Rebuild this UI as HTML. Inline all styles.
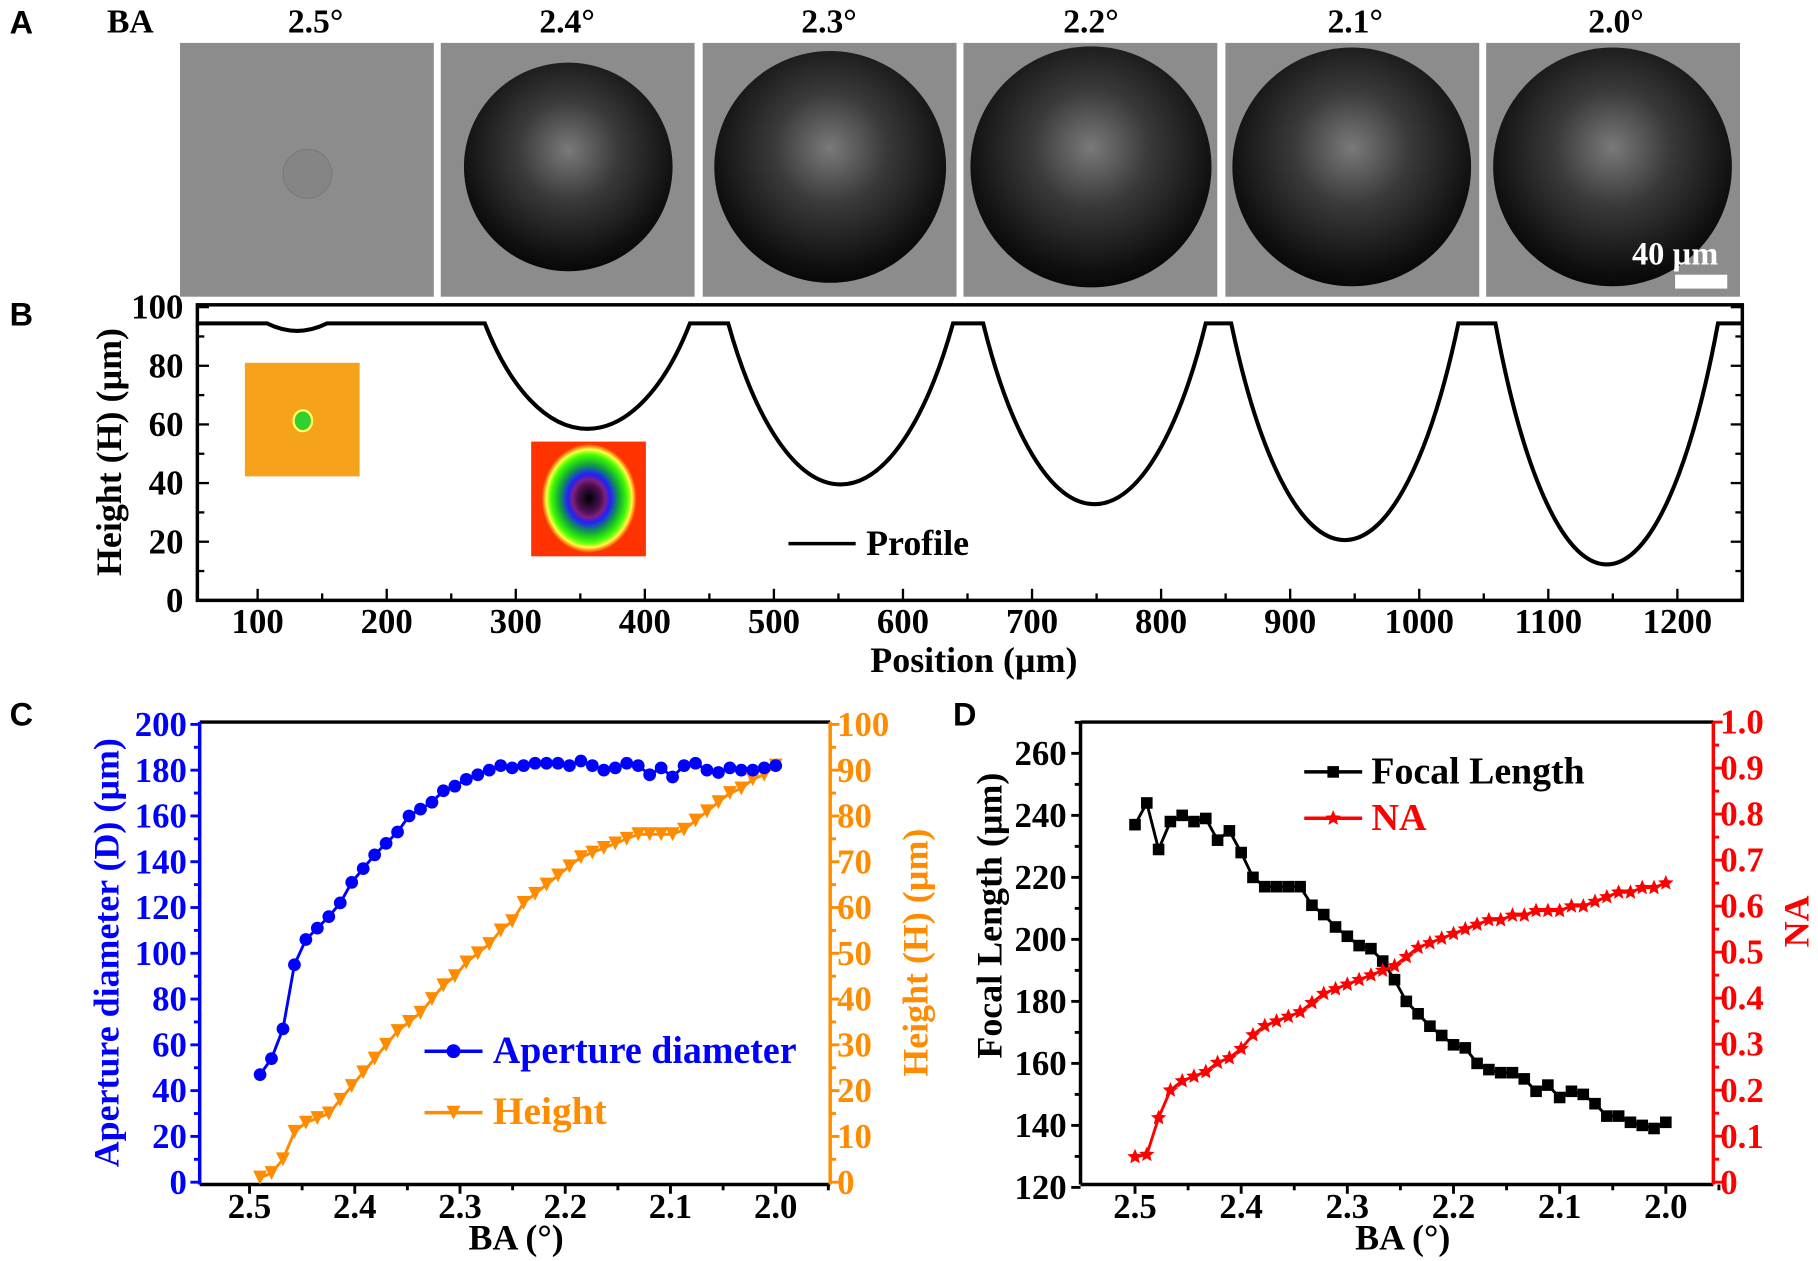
<!DOCTYPE html>
<html><head><meta charset="utf-8"><style>
html,body{margin:0;padding:0;background:#fff;}
svg{display:block;}
text{font-family:"Liberation Serif",serif;font-weight:bold;}
text.sans{font-family:"Liberation Sans",sans-serif;}
</style></head><body>
<svg id="s" width="1818" height="1261" viewBox="0 0 1568 1088" xmlns="http://www.w3.org/2000/svg">
<defs>
<radialGradient id="rg" cx="0.5" cy="0.5" r="0.5">
<stop offset="0" stop-color="#000"/><stop offset="0.25" stop-color="#4a1050"/><stop offset="0.35" stop-color="#802080"/>
<stop offset="0.45" stop-color="#2020ff"/><stop offset="0.62" stop-color="#10a040"/><stop offset="0.8" stop-color="#40ff00"/>
<stop offset="0.9" stop-color="#ffff40"/><stop offset="1" stop-color="#ff3300"/></radialGradient>
<radialGradient id="dome" cx="0.5" cy="0.42" r="0.6">
<stop offset="0" stop-color="#7a7a7a"/><stop offset="0.4" stop-color="#3a3a3a"/><stop offset="0.85" stop-color="#101010"/><stop offset="1" stop-color="#050505"/></radialGradient>
</defs>
<g id="g"></g>
</svg>
<script>
var g=document.getElementById('g'),h='';
function T(x,y,s,sz,a,c,ex){h+='<text x="'+x+'" y="'+y+'" font-size="'+sz+'" text-anchor="'+(a||'middle')+'" fill="'+(c||'#000')+'" '+(ex||'')+'>'+s+'</text>';}
function L(x1,y1,x2,y2,c,w){h+='<line x1="'+x1+'" y1="'+y1+'" x2="'+x2+'" y2="'+y2+'" stroke="'+(c||'#000')+'" stroke-width="'+(w||2)+'"/>';}
var TS=30,LS=31;
// Panel A
T(8,29,'A',28,'start','#000','class="sans"');
T(92,28,'BA',29,'start');
var labs=['2.5°','2.4°','2.3°','2.2°','2.1°','2.0°'],lx=[272,489,715,941,1169,1394];
for(var i=0;i<6;i++)T(lx[i],28,labs[i],29);
var ix=[155,380,606,831,1057,1282],cx=[490,716,941,1166,1391],rr=[90,100,104,103,103];
for(i=0;i<6;i++)h+='<rect x="'+ix[i]+'" y="37" width="219" height="219" fill="#8c8c8c"/>';
h+='<circle cx="265" cy="150" r="21" fill="#858585" stroke="#7a7a7a"/>';
for(i=0;i<5;i++)h+='<circle cx="'+cx[i]+'" cy="144" r="'+rr[i]+'" fill="url(#dome)"/>';
T(1445,228,'40 µm',28,'middle','#fff');
h+='<rect x="1445" y="237" width="45" height="12" fill="#fff"/>';
// Panel B
T(8,281,'B',28,'start','#000','class="sans"');
h+='<rect x="170" y="263" width="1333" height="255" fill="none" stroke="#000" stroke-width="3"/>';
for(var v=0;v<=100;v+=10){var y=518-v*2.53;L(170,y,v%20?176:180,y);L(1503,y,v%20?1497:1493,y);if(v%20==0)T(158,y+10,v,TS,'end');}
for(v=100;v<=1200;v+=50){var x=222+(v-100)*1.1136;L(x,518,x,v%100?512:508);if(v%100==0)T(x,546,v,TS);}
T(840,580,'Position (µm)',LS);
T(0,0,'Height (H) (µm)',LS,'middle','#000','transform="translate(104,390) rotate(-90)"');
h+='<rect x="211" y="313" width="99" height="98" fill="#f6a21a"/><ellipse cx="261" cy="363" rx="8" ry="9" fill="#30d030" stroke="#ffff60" stroke-width="2"/>';
h+='<rect x="458" y="381" width="99" height="99" fill="#ff3300"/><ellipse cx="508" cy="430" rx="41" ry="47" fill="url(#rg)"/>';
L(680,469,738,469,'#000',3);T(747,479,'Profile',LS,'start');
var bowls=[[418,595,370],[628,822,418],[848,1040,435],[1062,1258,466],[1290,1482,487]];
var p='M170 279 L230 279 Q256 292 282 279 L418 279';
for(i=0;i<5;i++){var a=bowls[i][0],b=bowls[i][1],m=bowls[i][2],w=b-a,mid=(a+b)/2,d=m-279;
p+=' C'+(a+0.12*w)+' '+(279+0.6*d)+' '+(a+0.3*w)+' '+m+' '+mid+' '+m+' C'+(b-0.3*w)+' '+m+' '+(b-0.12*w)+' '+(279+0.6*d)+' '+b+' 279';
p+=' L'+(i<4?bowls[i+1][0]:1503)+' 279';}
h+='<path d="'+p+'" fill="none" stroke="#000" stroke-width="3.5"/>';
// Panel C
T(8,626,'C',28,'start','#000','class="sans"');
var X0=172,X1=716,Y0=623,Y1=1022;
L(X0,Y0,X1,Y0,'#000',3);L(X0,Y1,X1,Y1,'#000',3);L(X0,Y0,X0,Y1,'#00f',3);L(X1,Y0,X1,Y1,'#ff8c00',3);
function cy(v){return 1020-v*1.975;}function cyr(v){return 1020-v*3.95;}function cx_(v){return 215+(2.5-v)*908;}
for(v=0;v<=200;v+=10){y=cy(v);L(X0,y,X0-(v%20?5:8),y,'#00f',2.5);if(v%20==0)T(161,y+10,v,TS,'end','#00f');}
for(v=0;v<=100;v+=5){y=cyr(v);L(X1,y,X1+(v%10?5:8),y,'#ff8c00',2.5);if(v%10==0)T(722,y+10,v,TS,'start','#ff8c00');}
for(v=25;v>=19.5;v-=0.5){x=cx_(v/10);L(x,Y1,x,Y1+(Math.round(v*2)%2?5:8),'#000',2.5);if(Math.round(v*2)%2==0)T(x,1051,(v/10).toFixed(1),TS);}
T(445,1078,'BA (°)',LS);
T(0,0,'Aperture diameter (D) (µm)',LS,'middle','#00f','transform="translate(102,822) rotate(-90)"');
T(0,0,'Height (H) (µm)',LS,'middle','#ff8c00','transform="translate(800,822) rotate(-90)"');
var D=[47,54,67,95,106,111,116,122,131,137,143,148,153,160,163,166,171,173,176,178,180,182,181,182,183,183,183,182,184,182,180,181,183,182,178,181,177,182,183,180,179,181,180,180,181,182],
H=[1,2,5,11,13,14,15,18,21,24,27,30,33,35,37,40,43,45,48,50,52,55,57,61,63,65,67,69,71,72,73,74,75,76,76,76,76,77,79,81,83,85,86,88,89,91];
var n=D.length,pts='',pts2='';
for(i=0;i<n;i++){var xv=2.49-i*0.49/(n-1);pts+=cx_(xv)+','+cy(D[i])+' ';pts2+=cx_(xv)+','+cyr(H[i])+' ';}
h+='<polyline points="'+pts2+'" fill="none" stroke="#ff8c00" stroke-width="2.5"/>';
h+='<polyline points="'+pts+'" fill="none" stroke="#00f" stroke-width="2.5"/>';
for(i=0;i<n;i++){xv=2.49-i*0.49/(n-1);x=cx_(xv);y=cyr(H[i]);
h+='<polygon points="'+(x-6)+','+(y-6)+' '+(x+6)+','+(y-6)+' '+x+','+(y+6)+'" fill="#ff8c00"/>';
h+='<circle cx="'+x+'" cy="'+cy(D[i])+'" r="5.5" fill="#00f"/>';}
L(366,907,416,907,'#00f',3);h+='<circle cx="391" cy="907" r="6" fill="#00f"/>';T(425,917,'Aperture diameter',LS+3,'start','#00f','textLength="262" lengthAdjust="spacingAndGlyphs"');
L(366,960,416,960,'#ff8c00',3);h+='<polygon points="385,954 397,954 391,966" fill="#ff8c00"/>';T(425,970,'Height',LS+3,'start','#ff8c00');
// Panel D
T(822,626,'D',28,'start','#000','class="sans"');
X0=932;X1=1478;
L(X0,Y0,X1,Y0,'#000',3);L(X0,Y1,X1,Y1,'#000',3);L(X0,Y0,X0,Y1,'#000',3);L(X1,Y0,X1,Y1,'#f00',3);
function dy(v){return 1024.5-(v-120)*2.675;}function dyr(v){return 1020-v*397;}function dx(v){return 979+(2.5-v)*916;}
for(v=120;v<=270;v+=10){y=dy(v);if(y<Y0)break;L(X0,y,X0-(v%20?5:8),y,'#000',2.5);if(v%20==0)T(920,y+10,v,TS,'end');}
for(v=0;v<=20;v++){y=dyr(v/20);L(X1,y,X1+(v%2?5:8),y,'#f00',2.5);if(v%2==0)T(1484,y+10,v==0?'0':(v/20).toFixed(1),TS,'start','#f00');}
for(v=25;v>=19.5;v-=0.5){x=dx(v/10);L(x,Y1,x,Y1+(Math.round(v*2)%2?5:8),'#000',2.5);if(Math.round(v*2)%2==0)T(x,1051,(v/10).toFixed(1),TS);}
T(1210,1078,'BA (°)',LS);
T(0,0,'Focal Length (µm)',LS,'middle','#000','transform="translate(864,790) rotate(-90)"');
T(0,0,'NA',LS,'middle','#f00','transform="translate(1560,795) rotate(-90)"');
var F=[237,244,229,238,240,238,239,232,235,228,220,217,217,217,217,211,208,204,201,198,197,193,187,180,176,172,169,166,165,160,158,157,157,155,151,153,149,151,150,147,143,143,141,140,139,141],
N=[0.055,0.06,0.14,0.2,0.22,0.23,0.24,0.26,0.27,0.29,0.32,0.34,0.35,0.36,0.37,0.39,0.41,0.42,0.43,0.44,0.45,0.46,0.47,0.49,0.51,0.52,0.53,0.54,0.55,0.56,0.57,0.57,0.58,0.58,0.59,0.59,0.59,0.60,0.60,0.61,0.62,0.63,0.63,0.64,0.64,0.65];
n=F.length;pts='';pts2='';
for(i=0;i<n;i++){xv=2.5-i*0.5/(n-1);pts+=dx(xv)+','+dy(F[i])+' ';pts2+=dx(xv)+','+dyr(N[i])+' ';}
h+='<polyline points="'+pts+'" fill="none" stroke="#000" stroke-width="2.5"/>';
h+='<polyline points="'+pts2+'" fill="none" stroke="#f00" stroke-width="2.5"/>';
function star(x,y,r,c){var s='';for(var k=0;k<10;k++){var ang=-Math.PI/2+k*Math.PI/5,rad=k%2?r*0.45:r;s+=(x+rad*Math.cos(ang)).toFixed(1)+','+(y+rad*Math.sin(ang)).toFixed(1)+' ';}h+='<polygon points="'+s+'" fill="'+c+'"/>';}
for(i=0;i<n;i++){xv=2.5-i*0.5/(n-1);x=dx(xv);
h+='<rect x="'+(x-5)+'" y="'+(dy(F[i])-5)+'" width="10" height="10" fill="#000"/>';star(x,dyr(N[i]),7,'#f00');}
L(1125,666,1175,666,'#000',3);h+='<rect x="1145" y="661" width="10" height="10" fill="#000"/>';T(1183,676,'Focal Length',LS+2,'start','#000','textLength="184" lengthAdjust="spacingAndGlyphs"');
L(1125,706,1175,706,'#f00',3);star(1150,706,7,'#f00');T(1183,716,'NA',LS+2,'start','#f00');
g.innerHTML=h;
</script>
</body></html>
